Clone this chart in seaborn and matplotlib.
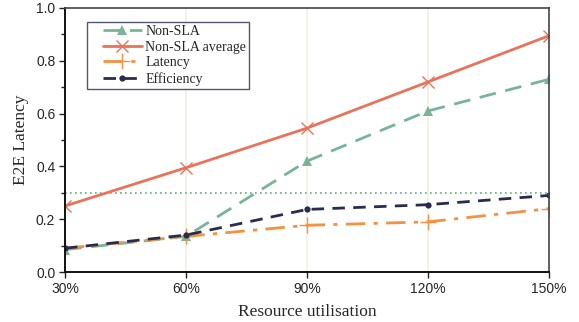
import matplotlib
matplotlib.use("Agg")
import matplotlib.pyplot as plt
import seaborn as sns
import pandas as pd
from matplotlib.ticker import MultipleLocator
from matplotlib.lines import Line2D
from matplotlib.legend_handler import HandlerLine2D

# Values per utilisation level
categories = ["30%", "60%", "90%", "120%", "150%"]
non_sla = [0.085, 0.135, 0.42, 0.61, 0.73]
non_sla_avg = [0.25, 0.395, 0.545, 0.72, 0.895]
latency = [0.09, 0.135, 0.177, 0.19, 0.24]
efficiency = [0.09, 0.14, 0.237, 0.255, 0.29]
threshold = 0.3

series_names = ["Non-SLA", "Non-SLA average", "Latency", "Efficiency"]
series_values = [non_sla, non_sla_avg, latency, efficiency]

rows = []
for name, vals in zip(series_names, series_values):
    for i, v in enumerate(vals):
        rows.append({"pos": i, "value": v, "series": name})
df = pd.DataFrame(rows)

sns.set_style("white")
plt.rcParams["font.family"] = ["Liberation Sans", "DejaVu Sans"]

fig = plt.figure(figsize=(5.79, 3.22), dpi=100)
ax = fig.add_axes([65 / 579, 50 / 322, (549 - 65) / 579, (272 - 8) / 322])

styles = {
    "Non-SLA": dict(color="#78b598", marker="^", dashes=(6, 3.5), ms=7, mew=0, lw=2.0),
    "Non-SLA average": dict(color="#e8735a", marker="x", dashes=(), ms=9, mew=1.0, lw=2.0),
    "Latency": dict(color="#f59140", marker="+", dashes=(7, 3, 1.5, 3), ms=11, mew=1.0, lw=2.0),
    "Efficiency": dict(color="#2a2c4e", marker="o", dashes=(4.5, 3), ms=4.5, mew=0, lw=2.0),
}

# vertical guides at the inner categories
for i in range(1, len(categories) - 1):
    ax.axvline(i, color="#f0f0e0", lw=1.2, zorder=0)

ax.axhline(threshold, color="#5fae7c", lw=1.2, ls=(0, (1, 2)), zorder=1)

for name in series_names:
    st = styles[name]
    sub = df[df["series"] == name]
    kw = dict(x="pos", y="value", data=sub, ax=ax, color=st["color"], marker=st["marker"],
              markersize=st["ms"], markeredgewidth=st["mew"], lw=st["lw"], label=name)
    if st["dashes"]:
        kw["dashes"] = False
        sns.lineplot(**kw)
        ax.lines[-1].set_dashes(st["dashes"])
    else:
        sns.lineplot(**kw)
    if st["marker"] in ("x", "+"):
        ax.lines[-1].set_markeredgecolor(st["color"])

ax.set_xlim(0, len(categories) - 1)
ax.set_ylim(0, 1.0)
ax.set_xticks(range(len(categories)))
ax.set_xticklabels(categories)
ax.yaxis.set_major_locator(MultipleLocator(0.2))
ax.yaxis.set_minor_locator(MultipleLocator(0.1))
ax.set_yticklabels([f"{t:.1f}" for t in ax.get_yticks()])
ax.tick_params(axis="both", which="major", direction="out", length=4, width=1,
               color="#222222", labelsize=10, pad=3)
ax.tick_params(axis="y", which="minor", direction="out", length=3, width=1, color="#222222",
               left=True)
ax.tick_params(axis="x", bottom=True)
ax.tick_params(axis="y", left=True)

for side in ["left", "bottom"]:
    ax.spines[side].set_color("#111111")
    ax.spines[side].set_linewidth(1.4)
for side in ["top", "right"]:
    ax.spines[side].set_color("#444444")
    ax.spines[side].set_linewidth(1.2)

serif = ["Liberation Serif", "DejaVu Serif"]
ax.set_xlabel("Resource utilisation", fontsize=12.5, family=serif, labelpad=6)
ax.set_ylabel("E2E Latency", fontsize=12.5, family=serif, labelpad=5)

leg = ax.legend(loc="upper left", bbox_to_anchor=(22 / 484, 1 - 14 / 264), frameon=True,
                fancybox=False, prop={"family": serif, "size": 10}, handlelength=3.75,
                handletextpad=0.25, labelspacing=0.2, borderpad=0.2, borderaxespad=0,
                handler_map={Line2D: HandlerLine2D(xpad=0.95)})
leg.get_frame().set_edgecolor("#2a2c4e")
leg.get_frame().set_linewidth(1.0)

fig.savefig("out.png", dpi=100)
